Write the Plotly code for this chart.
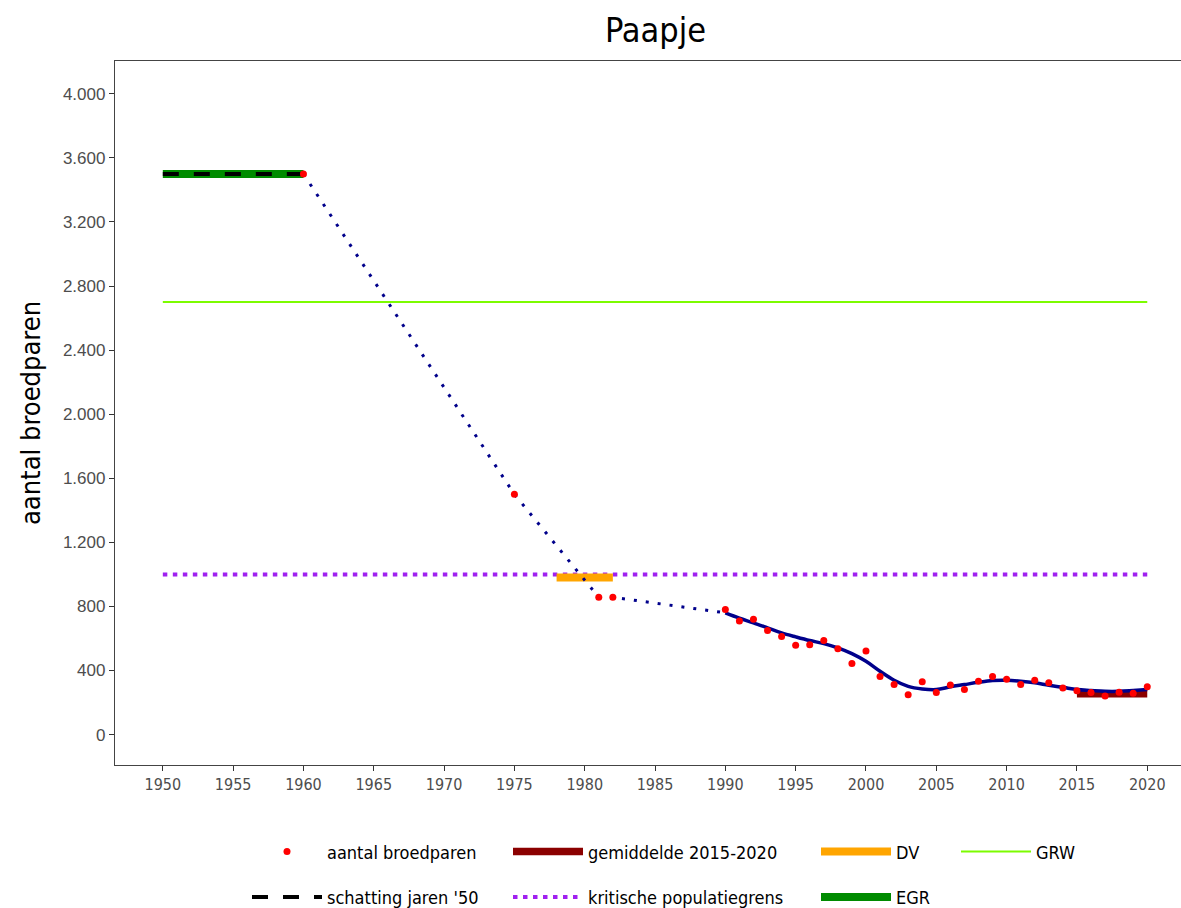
import plotly.graph_objects as go

# ---- data ----
obs_years = [1960, 1975, 1981, 1982,
             1990, 1991, 1992, 1993, 1994, 1995, 1996, 1997, 1998, 1999,
             2000, 2001, 2002, 2003, 2004, 2005, 2006, 2007, 2008, 2009,
             2010, 2011, 2012, 2013, 2014, 2015, 2016, 2017, 2018, 2019, 2020]
obs_values = [3500, 1500, 857, 857,
              780, 709, 720, 649, 612, 557, 560, 587, 535, 443,
              522, 362, 312, 248, 329, 262, 310, 281, 333, 362,
              345, 312, 339, 324, 291, 273, 262, 241, 264, 258, 298]

dotted_years = [1960, 1975, 1981, 1982, 1990]
dotted_values = [3500, 1500, 857, 857, 760]

smooth_years = list(range(1990, 2021))
smooth_values = [759, 726, 697, 666, 635, 610, 587, 568, 541, 505,
                 457, 395, 339, 301, 285, 281, 298, 312, 326, 337,
                 339, 333, 323, 308, 295, 281, 275, 270, 270, 275, 281]

mean_years = [2015, 2020]
mean_value = 255

dv_years = [1978, 1982]
dv_value = 980

egr_years = [1950, 1960]
egr_value = 3500

schatting_years = [1950, 1960]
schatting_value = 3500

grw_years = [1950, 2020]
grw_value = 2700

krit_years = [1950, 2020]
krit_value = 1000

x_ticks = list(range(1950, 2021, 5))
y_ticks = [0, 400, 800, 1200, 1600, 2000, 2400, 2800, 3200, 3600, 4000]
y_tick_labels = ["0", "400", "800", "1.200", "1.600", "2.000", "2.400",
                 "2.800", "3.200", "3.600", "4.000"]

# ---- figure ----
fig = go.Figure()

fig.add_trace(go.Scatter(
    x=grw_years, y=[grw_value] * 2, mode="lines", name="GRW",
    line=dict(color="#7CFC00", width=2), legend="legend4", legendgroup="grw"))

fig.add_trace(go.Scatter(
    x=krit_years, y=[krit_value] * 2, mode="lines", name="kritische populatiegrens",
    line=dict(color="#A020F0", width=4, dash="4.5px,5.5px"),
    legend="legend2", legendgroup="krit", legendrank=2))

fig.add_trace(go.Scatter(
    x=dv_years, y=[dv_value] * 2, mode="lines", name="DV",
    line=dict(color="#FFA500", width=8), legend="legend3", legendgroup="dv", legendrank=1))

fig.add_trace(go.Scatter(
    x=mean_years, y=[mean_value] * 2, mode="lines", name="gemiddelde 2015-2020",
    line=dict(color="#8B0000", width=7.5), legend="legend2", legendgroup="mean", legendrank=1))

fig.add_trace(go.Scatter(
    x=egr_years, y=[egr_value] * 2, mode="lines", name="EGR",
    line=dict(color="#008B00", width=8), legend="legend3", legendgroup="egr", legendrank=2))

fig.add_trace(go.Scatter(
    x=schatting_years, y=[schatting_value] * 2, mode="lines", name="schatting jaren '50",
    line=dict(color="black", width=4, dash="16px,15px"),
    legend="legend", legendgroup="schat", legendrank=2))

fig.add_trace(go.Scatter(
    x=dotted_years, y=dotted_values, mode="lines", showlegend=False,
    line=dict(color="#00008B", width=3, dash="3px,9px")))

fig.add_trace(go.Scatter(
    x=smooth_years, y=smooth_values, mode="lines", showlegend=False,
    line=dict(color="#00008B", width=3.5, shape="spline")))

fig.add_trace(go.Scatter(
    x=obs_years, y=obs_values, mode="markers", name="aantal broedparen",
    marker=dict(color="#FF0000", size=7), legend="legend", legendgroup="obs", legendrank=1))

LEG_W = 70
legend_common = dict(
    orientation="v", yanchor="top", xanchor="left", y=-0.097,
    font=dict(family="DejaVu Sans Condensed, DejaVu Sans", size=18, color="black"),
    itemwidth=LEG_W, tracegroupgap=19, bgcolor="rgba(0,0,0,0)",
)

def legend_x(text_px):
    # legend left edge so that the entry text starts at text_px
    return (text_px - (LEG_W + 10) - 115) / 1066

fig.update_layout(
    width=1181, height=940,
    margin=dict(l=115, r=0, t=61, b=175),
    paper_bgcolor="white", plot_bgcolor="white",
    title=dict(text="Paapje", x=0.555, xanchor="center", y=1 - 30 / 940, yanchor="middle",
               font=dict(family="DejaVu Sans Condensed, DejaVu Sans", size=34, color="black")),
    xaxis=dict(range=[1946.6, 2022.4], tickvals=x_ticks, ticktext=[str(v) for v in x_ticks],
               showgrid=False, zeroline=False, showline=True, linecolor="#444", linewidth=1.3,
               mirror=True, ticks="outside", ticklen=5, tickcolor="#333", tickwidth=1.3,
               tickfont=dict(family="DejaVu Sans Condensed, DejaVu Sans", size=16, color="#4D4D4D")),
    yaxis=dict(range=[-190, 4205], tickvals=y_ticks, ticktext=y_tick_labels,
               showgrid=False, zeroline=False, showline=True, linecolor="#444", linewidth=1.3,
               mirror=False, ticks="outside", ticklen=5, tickcolor="#333", tickwidth=1.3,
               tickfont=dict(family="Liberation Sans, Arial", size=17, color="#4D4D4D"),
               title=dict(text="aantal broedparen", standoff=14,
                          font=dict(family="DejaVu Sans Condensed, DejaVu Sans", size=27, color="black"))),
    legend=dict(x=legend_x(327), **legend_common),
    legend2=dict(x=legend_x(588), **legend_common),
    legend3=dict(x=legend_x(896), **legend_common),
    legend4=dict(x=legend_x(1036), **legend_common),
)

fig.write_html(
    "out.html",
    config={"displayModeBar": False},
    post_script="document.body.style.margin='0';document.body.style.overflow='hidden';",
)
